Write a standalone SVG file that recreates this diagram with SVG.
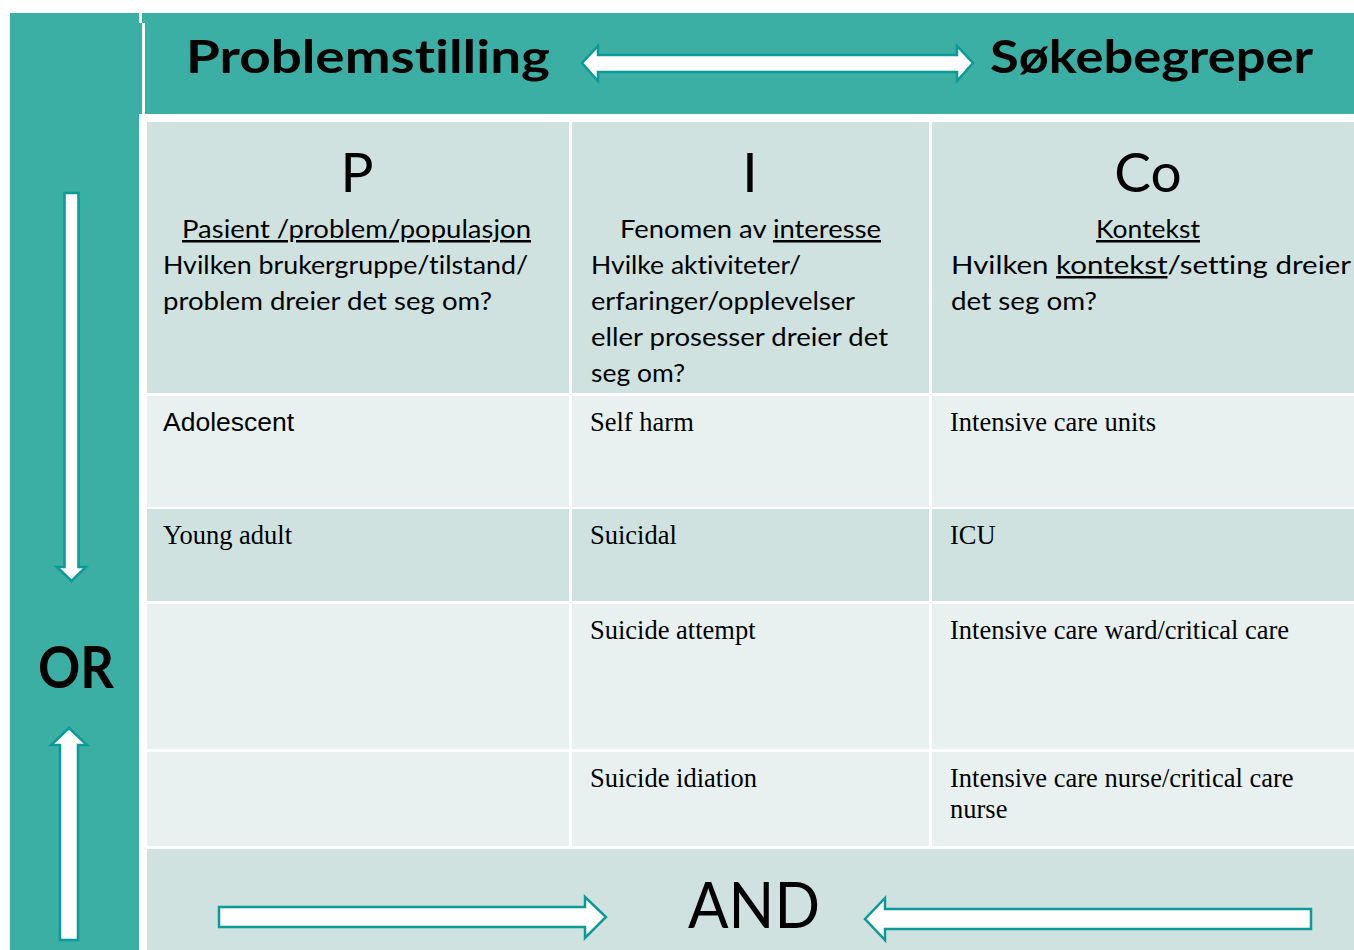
<svg xmlns="http://www.w3.org/2000/svg" width="1354" height="950" viewBox="0 0 1354 950">
<style>
text{font-variant-ligatures:none;font-feature-settings:"liga" 0,"clig" 0,"dlig" 0}
.teal{fill:#3CAFA4}
.dark{fill:#CFE2DF}
.light{fill:#E8F1F0}
.arrow{fill:#FFFFFF;stroke:#0B9A98;stroke-width:2.5;stroke-linejoin:miter}
.hd{font-family:Lato,"Open Sans","Liberation Sans",sans-serif;font-weight:bold;font-size:45px;fill:#000}
.big{font-family:Lato,"Open Sans","Liberation Sans",sans-serif;font-size:55px;fill:#000;text-anchor:middle}
.cal{font-family:Lato,"Open Sans","Liberation Sans",sans-serif;font-size:25px;fill:#000}
.u{text-decoration:underline}
.ser{font-family:"Liberation Serif","Times New Roman",serif;font-size:26.5px;fill:#000}
.sans{font-family:"Liberation Sans",Arial,sans-serif;font-size:26.5px;fill:#000}
</style>
<rect width="1354" height="950" fill="#FFFFFF"/>

<g id="or-column">
  <rect class="teal" x="10" y="13" width="129" height="937"/>
  <rect class="teal" x="139" y="23" width="3" height="91"/>
  <text x="38" y="688" font-family="Lato,'Open Sans','Liberation Sans',sans-serif" font-weight="bold" font-size="58" textLength="76" lengthAdjust="spacingAndGlyphs">OR</text>
</g>

<g id="header">
  <rect class="teal" x="142" y="13" width="1212" height="10"/>
  <rect class="teal" x="145" y="23" width="1209" height="91"/>
  <text class="hd" x="186" y="73" textLength="364" lengthAdjust="spacingAndGlyphs">Problemstilling</text>
  <text class="hd" x="990" y="73" textLength="323" lengthAdjust="spacingAndGlyphs">Søkebegreper</text>
</g>

<g id="cell-P">
  <rect class="dark" x="147" y="122" width="422" height="271"/>
  <text class="big" x="357" y="192">P</text>
  <text class="cal u" x="182" y="238" textLength="349" lengthAdjust="spacingAndGlyphs">Pasient /problem/populasjon</text>
  <text class="cal" x="163" y="274" textLength="365" lengthAdjust="spacingAndGlyphs">Hvilken brukergruppe/tilstand/</text>
  <text class="cal" x="163" y="310" textLength="329" lengthAdjust="spacingAndGlyphs">problem dreier det seg om?</text>
</g>

<g id="cell-I">
  <rect class="dark" x="572" y="122" width="357" height="271"/>
  <text class="big" x="750" y="192">I</text>
  <text class="cal" x="620" y="238" textLength="261" lengthAdjust="spacingAndGlyphs">Fenomen av <tspan class="u">interesse</tspan></text>
  <text class="cal" x="591" y="274" textLength="210" lengthAdjust="spacingAndGlyphs">Hvilke aktiviteter/</text>
  <text class="cal" x="591" y="310" textLength="264" lengthAdjust="spacingAndGlyphs">erfaringer/opplevelser</text>
  <text class="cal" x="591" y="346" textLength="297" lengthAdjust="spacingAndGlyphs">eller prosesser dreier det</text>
  <text class="cal" x="591" y="382" textLength="94" lengthAdjust="spacingAndGlyphs">seg om?</text>
</g>

<g id="cell-Co">
  <rect class="dark" x="932" y="122" width="422" height="271"/>
  <text class="big" x="1148" y="192">Co</text>
  <text class="cal u" x="1096" y="238" textLength="104" lengthAdjust="spacingAndGlyphs">Kontekst</text>
  <text class="cal" x="951" y="274" textLength="400" lengthAdjust="spacingAndGlyphs">Hvilken <tspan class="u">kontekst</tspan>/setting dreier</text>
  <text class="cal" x="951" y="310" textLength="146" lengthAdjust="spacingAndGlyphs">det seg om?</text>
</g>

<g id="row1">
  <rect class="light" x="147" y="396" width="422" height="111"/>
  <rect class="light" x="572" y="396" width="357" height="111"/>
  <rect class="light" x="932" y="396" width="422" height="111"/>
  <text class="sans" x="163" y="431">Adolescent</text>
  <text class="ser" x="590" y="431">Self harm</text>
  <text class="ser" x="950" y="431">Intensive care units</text>
</g>

<g id="row2">
  <rect class="dark" x="147" y="509" width="422" height="92"/>
  <rect class="dark" x="572" y="509" width="357" height="92"/>
  <rect class="dark" x="932" y="509" width="422" height="92"/>
  <text class="ser" x="163" y="544">Young adult</text>
  <text class="ser" x="590" y="544">Suicidal</text>
  <text class="ser" x="950" y="544">ICU</text>
</g>

<g id="row3">
  <rect class="light" x="147" y="604" width="422" height="145"/>
  <rect class="light" x="572" y="604" width="357" height="145"/>
  <rect class="light" x="932" y="604" width="422" height="145"/>
  <text class="ser" x="590" y="639">Suicide attempt</text>
  <text class="ser" x="950" y="639">Intensive care ward/critical care</text>
</g>

<g id="row4">
  <rect class="light" x="147" y="752" width="422" height="94"/>
  <rect class="light" x="572" y="752" width="357" height="94"/>
  <rect class="light" x="932" y="752" width="422" height="94"/>
  <text class="ser" x="590" y="787">Suicide idiation</text>
  <text class="ser" x="950" y="787">Intensive care nurse/critical care</text>
  <text class="ser" x="950" y="818">nurse</text>
</g>

<g id="and-row">
  <rect class="dark" x="147" y="849" width="1207" height="101"/>
  <text x="688" y="928" font-family="Lato,'Open Sans','Liberation Sans',sans-serif" font-size="64" textLength="132" lengthAdjust="spacingAndGlyphs">AND</text>
</g>

<g id="connectors">
  <polygon class="arrow" points="582,63 598,46 598,55 957,55 957,46 973,63 957,81 957,72 598,72 598,81"/>
  <polygon class="arrow" points="64.5,193 78.5,193 78.5,567 86,567 71.5,581 57,567 64.5,567"/>
  <polygon class="arrow" points="60,940 78,940 78,745 87,745 69,728 51,745 60,745"/>
  <polygon class="arrow" points="219,907 585,907 585,897 606,917 585,938 585,927 219,927"/>
  <polygon class="arrow" points="1311,909 885,909 885,898 865,919 885,940 885,929 1311,929"/>
</g>
</svg>
